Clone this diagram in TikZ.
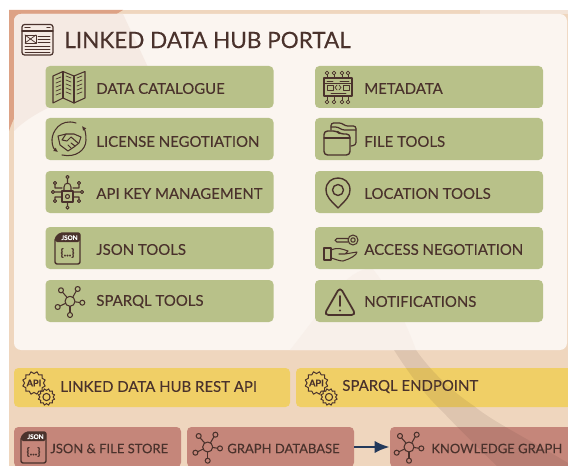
\documentclass[tikz,border=0pt]{standalone}
\usepackage{fontspec}
\setmainfont[FakeBold=.12]{Lato}
\newfontfamily\labelfont[FakeBold=.12]{Lato}
\newfontfamily\titlefont[FakeBold=.25]{Lato}
\usepackage{tikz}
\usetikzlibrary{arrows.meta}
\usetikzlibrary{positioning}

\definecolor{inkbrown}{HTML}{4A322C}
\definecolor{peach}{HTML}{EFD6BE}
\definecolor{salmon}{HTML}{DDA285}
\definecolor{panelcream}{HTML}{FBF5F0}
\definecolor{panelshade}{HTML}{F5EAE3}
\definecolor{boxgreen}{HTML}{B8C189}
\definecolor{boxyellow}{HTML}{F0CF66}
\definecolor{boxred}{HTML}{C5867A}
\definecolor{arrownavy}{HTML}{23395B}

\def\px{.02cm}

\tikzset{
	toolbox/.style={fill=boxgreen, rounded corners=2.5pt, minimum width=228*\px, minimum height=42*\px, inner sep=0pt},
	apibox/.style={fill=boxyellow, rounded corners=2.5pt, minimum height=39*\px, inner sep=0pt},
	storebox/.style={fill=boxred, rounded corners=2.5pt, minimum height=40*\px, inner sep=0pt},
	lbl/.style={anchor=west, text=inkbrown, font=\fontsize{8.5}{10}\labelfont, inner sep=0pt},
	smalllbl/.style={anchor=west, text=inkbrown, font=\fontsize{7.4}{9}\labelfont, inner sep=0pt},
	ink/.style={draw=inkbrown, line width=.6pt, line cap=round, line join=round},
	fine/.style={draw=inkbrown, line width=.4pt, line cap=round, line join=round},
	pics/graphicon/.style={code={
		\draw[ink] (0,0) circle (5);
		\draw[ink] (-9,-11) circle (2.5);
		\draw[ink] (7.7,-12.3) circle (2.5);
		\draw[ink] (12.3,1.4) circle (2.5);
		\draw[ink] (0,13.7) circle (2.5);
		\draw[ink] (-12.3,5.7) circle (2.5);
		\draw[ink] (-3,-4) -- (-7.4,-9);
		\draw[ink] (2.8,-4.2) -- (6.2,-10.2);
		\draw[ink] (5,.5) -- (9.8,1.2);
		\draw[ink] (0,5) -- (0,11.2);
		\draw[ink] (-4.6,2.1) -- (-10,4.7);
	}},
	pics/jsonicon/.style={code={
		\draw[ink, line width=.8pt, rounded corners=1.2pt] (0,5) -- (5,0) -- (25,0) -- (25,31) -- (0,31) -- cycle;
		\fill[inkbrown, rounded corners=1pt] (0,5) -- (5,0) -- (25,0) -- (25,9) -- (0,9) -- cycle;
		\node[text=white, font=\fontsize{3.6}{4}\bfseries\selectfont, inner sep=0pt] (jsontag) at (14.5,4.7) {JSON};
		\node[text=inkbrown, font=\fontsize{6}{7}\bfseries\selectfont, inner sep=0pt] (jsonbrace) at (12.5,20) {\{...\}};
	}},
	pics/gearicon/.style={code={
		\draw[ink, line width=.55pt] plot[samples at={0,15,...,345}] (\x:{9.4+2.2*mod(\x/15,2)}) -- cycle;
		\node[text=inkbrown, font=\fontsize{5.2}{6}\bfseries\selectfont, inner sep=0pt] (gearname) at (0,0) {API};
		\draw[ink, line width=.55pt, shift={(12.5,14)}] plot[samples at={0,15,...,345}] (\x:{6.6+1.8*mod(\x/15,2)}) -- cycle;
		\draw[ink, shift={(12.5,14)}] (0,0) circle (3.6);
	}},
}

\begin{document}
\begin{tikzpicture}[x=\px, y=-\px]
	\useasboundingbox (0,0) rectangle (568,466);
	\clip (0,0) rectangle (568,466);
	\fill[white] (0,0) rectangle (568,466);

	% backdrop
	\fill[peach] (9,10) rectangle (570,470);
	\fill[salmon] (9,10) -- (123,10) .. controls (90,30) and (30,70) .. (9,131) -- cycle;
	\fill[panelshade!70!peach] (480,10) -- (570,10) -- (570,14) -- (480,14) -- cycle;
	\fill[panelcream, rounded corners=4pt] (14,14) rectangle (567,350);
	\begin{scope}
		\clip[rounded corners=4pt] (14,14) rectangle (567,350);
		\fill[panelshade] (14,14) -- (123,14) .. controls (135,40) and (145,60) .. (150,72) .. controls (90,90) and (40,105) .. (14,131) -- cycle;
		\fill[panelshade!45!panelcream] (290,350) .. controls (330,300) and (345,270) .. (372,268) .. controls (390,290) and (405,320) .. (416,350) -- cycle;
	\end{scope}

	% portal
	\draw[ink, line width=.7pt, rounded corners=1.5pt] (22,24.5) rectangle (53,55);
	\draw[ink] (22,31) -- (53,31);
	\draw[ink] (25,27.8) -- (30,27.8) (47,27.8) -- (50,27.8);
	\draw[fine] (25,35) rectangle (36,43);
	\draw[fine] (25,35) -- (36,43) (25,43) -- (36,35);
	\draw[fine] (38,36) -- (50,36) (38,39) -- (50,39) (38,42) -- (50,42);
	\draw[fine] (25,46) -- (50,46) (25,49) -- (50,49) (25,52) -- (50,52);
	\node[lbl, font=\fontsize{12.8}{15}\titlefont] (portal) at (64,40) {LINKED DATA HUB PORTAL};

	% left column
	\node[toolbox] (catalogueBox) at (159.5,87) {};
	\node[toolbox] (licenseBox) at (159.5,139) {};
	\node[toolbox] (keysBox) at (159.5,192) {};
	\node[toolbox] (jsonBox) at (159.5,248) {};
	\node[toolbox] (sparqlBox) at (159.5,301) {};

	% right column
	\node[toolbox] (metadataBox) at (429,87) {};
	\node[toolbox] (fileBox) at (429,139) {};
	\node[toolbox] (locationBox) at (429,192) {};
	\node[toolbox] (accessBox) at (429,248) {};
	\node[toolbox] (noticeBox) at (429,301) {};

	% services and stores
	\node[apibox, minimum width=276*\px] (restBox) at (152,387.5) {};
	\node[apibox, minimum width=276*\px] (endpointBox) at (434,387.5) {};
	\node[storebox, minimum width=167*\px] (storeBox) at (97.5,447) {};
	\node[storebox, minimum width=167*\px] (graphBox) at (270.5,447) {};
	\node[storebox, minimum width=182*\px] (knowledgeBox) at (481,447) {};

	% band across the lower right
	\fill[inkbrown, opacity=.1] (394,350) .. controls (410,375) and (425,395) .. (441,410) .. controls (460,430) and (480,450) .. (497,466) -- (568,466) -- (568,463) .. controls (530,440) and (490,420) .. (474,406) .. controls (450,390) and (430,370) .. (416,350) -- cycle;

	\node[lbl] (catalogue) at (96,88.5) {DATA CATALOGUE};
	\node[lbl] (license) at (96,141.5) {LICENSE NEGOTIATION};
	\node[lbl] (keys) at (96,193.5) {API KEY MANAGEMENT};
	\node[lbl] (jsontools) at (96,249.5) {JSON TOOLS};
	\node[lbl] (sparql) at (96,301.5) {SPARQL TOOLS};
	\node[lbl] (metadata) at (364,88.5) {METADATA};
	\node[lbl] (file) at (364,141.5) {FILE TOOLS};
	\node[lbl] (location) at (364,193.5) {LOCATION TOOLS};
	\node[lbl] (access) at (364,249.5) {ACCESS NEGOTIATION};
	\node[lbl] (notice) at (364,301.5) {NOTIFICATIONS};
	\node[lbl] (rest) at (60,386.5) {LINKED DATA HUB REST API};
	\node[lbl] (endpoint) at (342,386.5) {SPARQL ENDPOINT};
	\node[smalllbl] (store) at (50,448.5) {JSON \& FILE STORE};
	\node[smalllbl] (graphdb) at (227,448.5) {GRAPH DATABASE};
	\node[smalllbl] (knowledge) at (431,448.5) {KNOWLEDGE GRAPH};

	\draw[-{Latex[length=8.5pt,width=7pt]}, draw=arrownavy, fill=arrownavy, line width=1.5pt] (graphBox) -- (knowledgeBox);

	% icons
	\pic (sparqlicon) at (70,301.3) {graphicon};
	\pic (graphdbicon) at (207.7,447) {graphicon};
	\pic (knowledgeicon) at (409,447) {graphicon};
	\pic (jsontoolsicon) at (55,233) {jsonicon};
	\pic (storeicon) at (21,432) {jsonicon};
	\pic (resticon) at (34,383) {gearicon};
	\pic (endpointicon) at (316.5,383) {gearicon};

	% map
	\draw[ink] (53,76) -- (63,71.5) -- (74,76) -- (85,71.5) -- (85,98) -- (74,103) -- (63,98) -- (53,103) -- cycle;
	\draw[ink] (63,71.5) -- (63,98) (74,76) -- (74,103);
	\foreach \i in {0,1,2,3,4}
		\draw[fine] (56,{79+4*\i}) -- (61,{77+4*\i}) (66,{76+4*\i}) -- (71,{78+4*\i}) (77,{78+4*\i}) -- (82,{76+4*\i});

	% handshake
	\draw[ink] (76,123) .. controls (60,118) and (52,132) .. (52,140);
	\draw[ink, -{Latex[length=2.5pt,width=2.5pt]}] (52,140) .. controls (52,146) and (54,149) .. (58,152);
	\draw[ink, -{Latex[length=2.5pt,width=2.5pt]}] (62,155) .. controls (76,158) and (86,150) .. (86,140) .. controls (86,134) and (85,130) .. (82,126);
	\draw[ink] (58,136) -- (66,134) -- (74,134) -- (81,137) (58,136) -- (60,145) -- (68,151) -- (74,147) -- (79,143) -- (81,137);
	\draw[ink] (66,134) -- (62,140) -- (67,141) -- (71,137) -- (78,143);
	\draw[ink] (68,145) -- (71,148) (71,143) -- (75,146);

	% lock and circuit
	\draw[ink] (62,191) rectangle (73,202);
	\draw[ink] (64,191) -- (64,187) .. controls (64,182) and (71,182) .. (71,187) -- (71,191);
	\draw[ink] (67.5,196.5) circle (2);
	\draw[ink] (67.5,177) circle (1.6) (67.5,178.6) -- (67.5,183.5);
	\draw[ink] (67.5,202) -- (67.5,206) (67.5,207.6) circle (1.6);
	\draw[ink] (55,183) circle (1.6) (55,184.6) -- (55,188) -- (62,188);
	\draw[ink] (79,183) circle (1.6) (79,184.6) -- (79,188) -- (73,188);
	\draw[ink] (53,192) circle (1.6) (54.6,192) -- (62,192);
	\draw[ink] (82,192) circle (1.6) (80.4,192) -- (73,192);
	\draw[ink] (55,201) circle (1.6) (55,199.4) -- (55,197) -- (62,197);
	\draw[ink] (79,201) circle (1.6) (79,199.4) -- (79,197) -- (73,197);

	% circuit board
	\draw[ink] (324,78) rectangle (352,96);
	\draw[fine] (324,83) -- (352,83);
	\foreach \x in {327,334,342,348} {
		\draw[fine] (\x,73) circle (1.8);
		\draw[fine] (\x,74.8) -- (\x,78);
		\draw[fine] (\x,102) circle (1.8);
		\draw[fine] (\x,96) -- (\x,100.2);
	}
	\draw[fine] (327,85) rectangle (333,90) (343,85) rectangle (349,90);
	\draw[fine] (337,85) -- (335,87.5) -- (337,90) (339,85) -- (341,87.5) -- (339,90);
	\draw[fine] (327,81) -- (333,81) (340,81) -- (349,81) (331,93) -- (346,93);

	% folders
	\draw[ink, line width=.7pt, rounded corners=1.5pt] (331,130) -- (331,123) -- (342,123) -- (345,126) -- (356,126) -- (356,145) -- (351,146);
	\draw[ink, line width=.7pt, rounded corners=1.5pt] (331,127) -- (338,127) -- (342,130) -- (356,130);
	\draw[ink, line width=.8pt, rounded corners=2pt] (324,155) -- (324,131) -- (337,131) -- (340,134) -- (350,134) -- (350,155) -- cycle;
	\draw[ink, line width=.7pt] (324,138) -- (350,138);

	% pin
	\draw[ink, line width=.8pt, line join=round] (338,208) .. controls (330,200) and (326,196) .. (326,190) .. controls (326,174) and (350,174) .. (350,190) .. controls (350,196) and (346,200) .. (338,208) -- cycle;
	\draw[ink, line width=.8pt] (338,190) circle (5.5);

	% key on a hand
	\draw[ink] (324,248) rectangle (331,260);
	\draw[ink] (331,250) .. controls (338,247) and (342,249) .. (348,251) -- (345,254) -- (339,254) (345,254) -- (357,252) .. controls (357,255) and (350,259) .. (343,261) .. controls (339,261) and (335,259) .. (331,258);
	\draw[ink] (353,240) circle (5) (353,240) circle (2.2);
	\draw[ink, rounded corners=1pt] (348,238.5) -- (335,238.5) -- (335,242) -- (348,242);

	% warning
	\draw[ink, line width=1pt, rounded corners=2.5pt] (340,287) -- (356,315) -- (324,315) -- cycle;
	\draw[ink, line width=1.1pt] (340,296) -- (340,306);
	\fill[inkbrown] (340,310.5) circle (1.2);
\end{tikzpicture}
\end{document}
